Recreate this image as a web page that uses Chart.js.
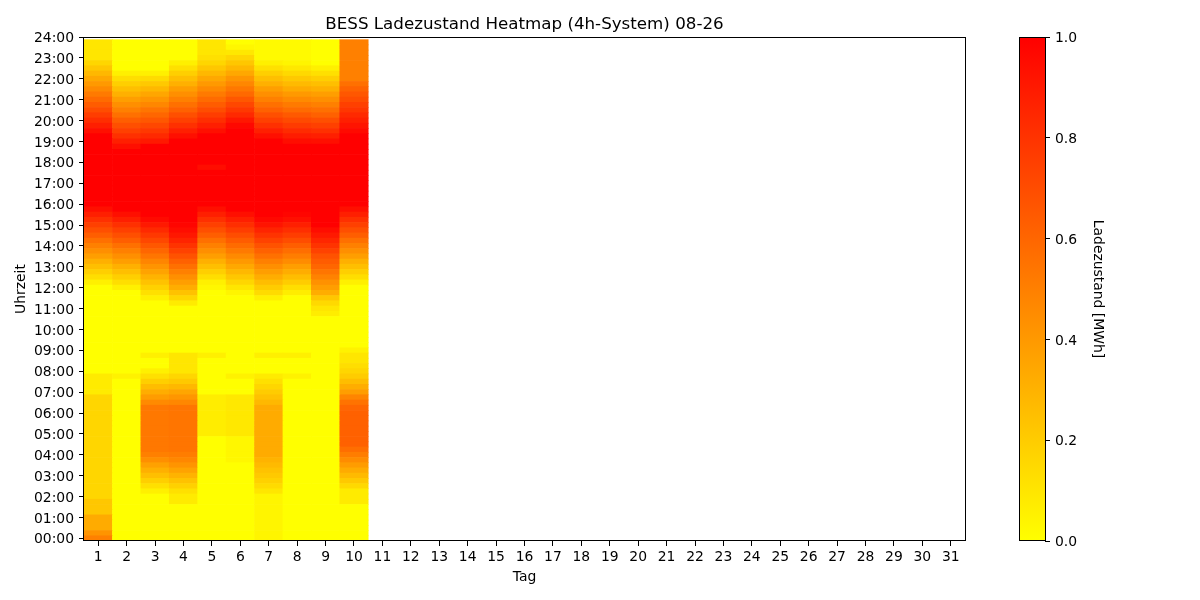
<!DOCTYPE html>
<html>
<head>
<meta charset="utf-8">
<script src="https://cdn.jsdelivr.net/npm/chart.js@4.4.1/dist/chart.umd.min.js"></script>
<style>
  html, body { margin: 0; padding: 0; background: #fff; }
  #wrap { position: relative; width: 1200px; height: 600px; }
  #heat { position: absolute; left: 0; top: 0; }
  #cbar { position: absolute; left: 1000px; top: 0; }
</style>
</head>
<body>
<div id="wrap">
  <canvas id="heat" width="1049" height="600"></canvas>
  <canvas id="cbar" width="200" height="600"></canvas>
</div>
<script>
const days = ['1','2','3','4','5','6','7','8','9','10','11','12','13','14','15','16',
  '17','18','19','20','21','22','23','24','25','26','27','28','29','30','31'];
const hourLabels = ['00:00','01:00','02:00','03:00','04:00','05:00','06:00','07:00','08:00',
  '09:00','10:00','11:00','12:00','13:00','14:00','15:00','16:00','17:00','18:00','19:00',
  '20:00','21:00','22:00','23:00','24:00'];
const cbarTicks = [0, 0.2, 0.4, 0.6, 0.8, 1.0];

// state of charge [MWh], 96 quarter hours per day, 00:00 first
const day1 = [
  0.5,0.42,0.33,0.33, 0.33,0.22,0.22,0.22, 0.16,0.16,0.16,0.16, 0.16,0.16,0.16,0.16,
  0.16,0.16,0.16,0.16, 0.16,0.16,0.16,0.16, 0.16,0.16,0.16,0.16, 0.08,0.08,0.08,0.08,
  0,0,0,0, 0,0,0,0, 0,0,0,0, 0,0,0,0,
  0,0.06,0.13,0.19, 0.25,0.31,0.38,0.44, 0.5,0.56,0.63,0.69, 0.75,0.81,0.88,0.94,
  1,1,1,1, 1,1,1,1, 1,1,1,1, 1,1,0.94,0.88,
  0.82,0.76,0.7,0.64, 0.58,0.52,0.46,0.4, 0.34,0.28,0.22,0.16, 0.1,0.1,0.1,0.1];
const day2 = [
  0,0,0,0, 0,0,0,0, 0,0,0,0, 0,0,0,0,
  0,0,0,0, 0,0,0,0, 0,0,0,0, 0,0,0,0.05,
  0,0,0,0, 0,0,0,0, 0,0,0,0, 0,0,0,0,
  0.06,0.13,0.19,0.25, 0.31,0.38,0.44,0.5, 0.56,0.63,0.69,0.75, 0.81,0.88,0.94,1,
  1,1,1,1, 1,1,1,1, 1,1,1,0.94, 0.88,0.81,0.75,0.69,
  0.63,0.56,0.5,0.44, 0.38,0.31,0.25,0.19, 0.13,0.06,0,0, 0,0,0,0];
const day3 = [
  0,0,0,0, 0,0,0,0, 0,0.06,0.12,0.19, 0.25,0.31,0.37,0.44,
  0.5,0.53,0.53,0.53, 0.53,0.53,0.53,0.53, 0.53,0.53,0.46,0.39, 0.32,0.26,0.19,0.12,
  0.06,0,0,0.06, 0,0,0,0, 0,0,0,0, 0,0,0.06,0.12,
  0.18,0.24,0.3,0.36, 0.42,0.48,0.54,0.6, 0.66,0.72,0.78,0.84, 0.9,0.96,1,1,
  1,1,1,1, 1,1,1,1, 1,1,1,1, 0.9,0.84,0.78,0.72,
  0.66,0.6,0.54,0.47, 0.41,0.35,0.28,0.21, 0.14,0.06,0,0, 0,0,0,0];
const day4 = [
  0,0,0,0, 0,0,0,0.08, 0.08,0.12,0.18,0.24, 0.3,0.36,0.42,0.47,
  0.51,0.54,0.54,0.54, 0.54,0.54,0.54,0.54, 0.54,0.54,0.47,0.41, 0.35,0.28,0.21,0.16,
  0.1,0.1,0.1,0.1, 0,0,0,0, 0,0,0,0, 0,0.08,0.16,0.24,
  0.32,0.38,0.44,0.5, 0.56,0.62,0.68,0.74, 0.8,0.86,0.91,0.95, 0.98,1,1,1,
  1,1,1,1, 1,1,1,1, 1,1,1,1, 1,0.94,0.88,0.81,
  0.75,0.69,0.62,0.56, 0.5,0.44,0.38,0.31, 0.25,0.19,0.12,0.06, 0,0,0,0];
const day5 = [
  0,0,0,0, 0,0,0,0, 0,0,0,0, 0,0,0,0,
  0,0,0,0, 0.07,0.07,0.07,0.07, 0.07,0.07,0.07,0.07, 0,0,0,0,
  0,0,0,0.06, 0,0,0,0, 0,0,0,0, 0,0,0,0,
  0.03,0.06,0.13,0.19, 0.25,0.31,0.38,0.44, 0.5,0.56,0.63,0.69, 0.75,0.81,0.88,0.94,
  1,1,1,1, 1,1,1,0.95, 1,1,1,1, 1,1,0.94,0.88,
  0.82,0.76,0.7,0.64, 0.58,0.52,0.46,0.4, 0.34,0.28,0.22,0.16, 0.12,0.1,0.1,0.1];
const day6 = [
  0,0,0,0, 0,0,0,0, 0,0,0,0, 0,0,0,0.03,
  0.03,0.03,0.03,0.03, 0.09,0.09,0.09,0.09, 0.09,0.09,0.09,0.09, 0,0,0,0.05,
  0,0,0,0, 0,0,0,0, 0,0,0,0, 0,0,0,0.04,
  0.1,0.16,0.22,0.28, 0.34,0.4,0.46,0.52, 0.58,0.64,0.7,0.76, 0.82,0.88,0.94,1,
  1,1,1,1, 1,1,1,1, 1,1,1,1, 1,1,1,0.97,
  0.91,0.84,0.78,0.72, 0.66,0.59,0.53,0.47, 0.41,0.34,0.28,0.22, 0.16,0.09,0.03,0];
const day7 = [
  0.04,0.04,0.04,0.04, 0.04,0.04,0.04,0.04, 0.04,0.1,0.14,0.18, 0.21,0.24,0.27,0.3,
  0.33,0.33,0.33,0.33, 0.33,0.33,0.33,0.33, 0.33,0.33,0.28,0.24, 0.2,0.16,0.12,0.08,
  0,0,0,0.06, 0,0,0,0, 0,0,0,0, 0,0,0.06,0.14,
  0.2,0.26,0.32,0.38, 0.44,0.5,0.56,0.62, 0.68,0.74,0.8,0.86, 0.92,0.97,1,1,
  1,1,1,1, 1,1,1,1, 1,1,1,1, 1,0.94,0.88,0.81,
  0.75,0.69,0.62,0.56, 0.5,0.44,0.38,0.31, 0.25,0.19,0.12,0.06, 0.02,0.02,0.02,0.02];
const day8 = [
  0,0,0,0, 0,0,0,0, 0,0,0,0, 0,0,0,0,
  0,0,0,0, 0,0,0,0, 0,0,0,0, 0,0,0,0.05,
  0,0,0,0.06, 0,0,0,0, 0,0,0,0, 0,0,0,0.07,
  0.13,0.2,0.26,0.32, 0.38,0.45,0.51,0.57, 0.63,0.7,0.76,0.82, 0.88,0.94,0.98,1,
  1,1,1,1, 1,1,1,1, 1,1,1,1, 0.95,0.89,0.83,0.77,
  0.71,0.65,0.58,0.52, 0.46,0.4,0.33,0.27, 0.21,0.15,0.09,0.04, 0.02,0.02,0.02,0.02];
const day9 = [
  0,0,0,0, 0,0,0,0, 0,0,0,0, 0,0,0,0,
  0,0,0,0, 0,0,0,0, 0,0,0,0, 0,0,0,0,
  0,0,0,0, 0,0,0,0, 0,0,0,0.07, 0.1,0.15,0.22,0.32,
  0.38,0.43,0.49,0.54, 0.6,0.64,0.68,0.74, 0.8,0.85,0.9,0.95, 1,1,1,1,
  1,1,1,1, 1,1,1,1, 1,1,1,1, 0.94,0.88,0.81,0.75,
  0.69,0.62,0.56,0.5, 0.44,0.38,0.31,0.25, 0.19,0.12,0.06,0, 0,0,0,0];
const day10 = [
  0,0,0,0, 0,0,0,0.08, 0.08,0.08,0.15,0.21, 0.27,0.33,0.39,0.45,
  0.51,0.57,0.62,0.62, 0.62,0.62,0.62,0.62, 0.62,0.6,0.55,0.48, 0.38,0.32,0.26,0.2,
  0.16,0.13,0.1,0.1, 0.05,0,0,0, 0,0,0,0, 0,0,0,0,
  0,0.06,0.13,0.19, 0.25,0.31,0.38,0.44, 0.5,0.56,0.63,0.69, 0.75,0.81,0.88,0.94,
  1,1,1,1, 1,1,1,1, 1,1,1,1, 1,1,0.96,0.92,
  0.88,0.84,0.79,0.75, 0.7,0.66,0.61,0.56, 0.5,0.5,0.5,0.5, 0.5,0.5,0.5,0.5];

const socByDay = [day1, day2, day3, day4, day5, day6, day7, day8, day9, day10];

Chart.defaults.font.family = 'DejaVu Sans';
Chart.defaults.color = '#000';

// matplotlib autumn_r: yellow at 0, red at 1
function socColor(v) {
  return 'rgb(255,' + Math.round(255 * (1 - v)) + ',0)';
}

const frame = {
  id: 'frame',
  afterDraw(chart) {
    const a = chart.chartArea, ctx = chart.ctx;
    ctx.save();
    ctx.strokeStyle = '#000';
    ctx.lineWidth = 1;
    ctx.strokeRect(Math.round(a.left) - 0.5, Math.round(a.top) + 0.5,
      Math.round(a.right - a.left) + 1, Math.round(a.bottom - a.top) - 1);
    ctx.restore();
  }
};

const tickFont = { size: 13.9 };

const rows = [];
for (let q = 0; q < 96; q++) {
  rows.push({
    data: days.map((d, i) => socByDay[i] ? [q - 0.5, q + 0.5] : null),
    backgroundColor: days.map((d, i) => socByDay[i] ? socColor(socByDay[i][q]) : 'rgba(0,0,0,0)'),
    borderWidth: 0,
    barPercentage: 1,
    categoryPercentage: 1,
    grouped: false
  });
}

new Chart(document.getElementById('heat'), {
  type: 'bar',
  data: { labels: days, datasets: rows },
  options: {
    responsive: false,
    animation: false,
    devicePixelRatio: 1,
    events: [],
    layout: { padding: { left: 0, right: 84, top: 0, bottom: 0 } },
    plugins: {
      legend: { display: false },
      tooltip: { enabled: false },
      title: {
        display: true,
        fullSize: false,
        text: 'BESS Ladezustand Heatmap (4h-System) 08-26',
        font: { size: 16.7, weight: 'normal' },
        color: '#000',
        padding: { top: 15, bottom: 2 }
      }
    },
    scales: {
      x: {
        offset: true,
        grid: { display: true, drawOnChartArea: false, drawTicks: true, tickLength: 5, offset: false, color: '#000' },
        border: { display: false },
        ticks: { font: tickFont, padding: 3, maxRotation: 0, autoSkip: false },
        title: { display: true, text: 'Tag', font: tickFont, padding: { top: 0, bottom: 14 } },
        afterFit: s => { s.height = 59; }
      },
      y: {
        type: 'linear',
        min: -0.5,
        max: 96,
        grid: { display: true, drawOnChartArea: false, drawTicks: true, tickLength: 5, color: '#000' },
        border: { display: false },
        ticks: { font: tickFont, padding: 5, autoSkip: false, labelOffset: 1.5, callback: v => hourLabels[v / 4] },
        afterBuildTicks: s => { s.ticks = hourLabels.map((l, i) => ({ value: i * 4 })); },
        title: { display: true, text: 'Uhrzeit', font: tickFont, padding: { top: 12.7, bottom: 0 } },
        afterFit: s => { s.width = 84; }
      }
    }
  },
  plugins: [frame]
});

new Chart(document.getElementById('cbar'), {
  type: 'bar',
  data: {
    labels: [''],
    datasets: [{
      data: [[0, 1]],
      backgroundColor: c => {
        const a = c.chart.chartArea;
        if (!a) return socColor(0.5);
        const g = c.chart.ctx.createLinearGradient(0, a.bottom, 0, a.top);
        g.addColorStop(0, socColor(0));
        g.addColorStop(1, socColor(1));
        return g;
      },
      borderWidth: 0,
      barPercentage: 1,
      categoryPercentage: 1
    }]
  },
  options: {
    responsive: false,
    animation: false,
    devicePixelRatio: 1,
    events: [],
    layout: { padding: { left: 20, right: 94, top: 37, bottom: 59 } },
    plugins: { legend: { display: false }, tooltip: { enabled: false } },
    scales: {
      x: { display: false },
      y: {
        position: 'right',
        min: 0,
        max: 1,
        grid: { display: true, drawOnChartArea: false, drawTicks: true, tickLength: 5, color: '#000' },
        border: { display: false },
        ticks: { font: tickFont, padding: 5, labelOffset: 1.5, callback: v => v.toFixed(1) },
        afterBuildTicks: s => { s.ticks = cbarTicks.map(v => ({ value: v })); },
        title: { display: true, text: 'Ladezustand [MWh]', font: tickFont, padding: { top: 0, bottom: 0 } },
        afterFit: s => { s.width = 61; }
      }
    }
  },
  plugins: [frame]
});
</script>
</body>
</html>
